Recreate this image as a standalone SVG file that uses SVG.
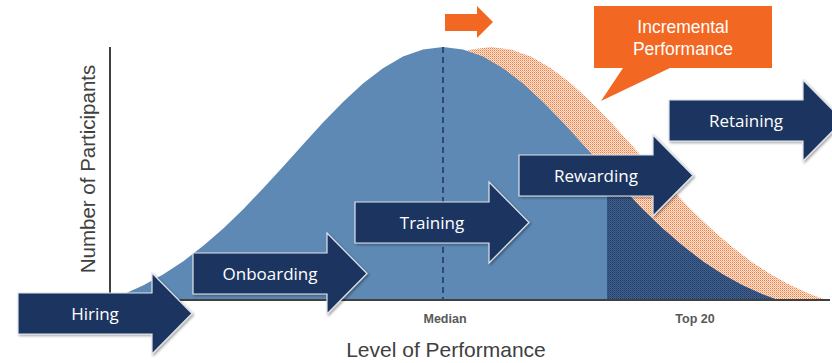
<svg xmlns="http://www.w3.org/2000/svg" width="832" height="363" viewBox="0 0 832 363">
<style>
.stage{fill:#1a3660;stroke:#dfe3ea;stroke-width:1.2;filter:url(#sh)}
.stxt{font-family:"Open Sans","Liberation Sans",sans-serif;font-size:17px;fill:#ffffff;text-anchor:middle}
.tick{font-family:"Liberation Sans",Arial,sans-serif;font-size:12.5px;font-weight:bold;fill:#595959;text-anchor:middle}
.axt{font-family:"Liberation Sans",Arial,sans-serif;font-size:20.5px;fill:#404040;text-anchor:middle}
.callt{font-family:"Liberation Sans",Arial,sans-serif;font-size:17.5px;fill:#ffffff;text-anchor:middle}
.axis{stroke:#404040;stroke-width:2;fill:none}
</style>
<defs>
<filter id="sh" x="-10%" y="-10%" width="125%" height="130%">
<feDropShadow dx="1.5" dy="1.5" stdDeviation="1.2" flood-color="#000" flood-opacity="0.35"/>
</filter>
<pattern id="orangeHatch" width="2" height="2" patternUnits="userSpaceOnUse">
<rect width="2" height="2" fill="#fde6d8"/>
<rect width="1" height="1" fill="#f27a3a"/>
<rect x="1" y="1" width="1" height="1" fill="#f8b08a"/>
</pattern>
<pattern id="darkHatch" width="2" height="2" patternUnits="userSpaceOnUse">
<rect width="2" height="2" fill="#3f5f8d"/>
<rect width="1" height="1" fill="#253f68"/>
<rect x="1" y="1" width="1" height="1" fill="#2e4b77"/>
</pattern>
<path id="bluePath" d="M110,299.5 L123,294.4 L143,285.5 L163,274.5 L183,261.4 L203,246.1 L223,228.7 L243,209.4 L263,188.5 L283,166.7 L303,144.4 L323,122.5 L343,102 L363,83.6 L383,68.2 L403,56.6 L423,49.5 L443,47 L463,49.5 L483,56.6 L503,68.2 L523,83.6 L543,102 L563,122.5 L583,144.4 L603,166.7 L623,188.5 L643,209.4 L663,228.7 L683,246.1 L703,261.4 L723,274.5 L743,285.5 L763,294.4 L778,300 L110,300 Z"/>
<clipPath id="blueClip"><use href="#bluePath"/></clipPath>
</defs>

<g id="curves">
<path id="orange-curve" fill="url(#orangeHatch)" d="M158,300 L171,294.4 L191,285.5 L211,274.5 L231,261.4 L251,246.1 L271,228.7 L291,209.4 L311,188.5 L331,166.7 L351,144.4 L371,122.5 L391,102 L411,83.6 L431,68.2 L451,56.6 L471,49.5 L491,47 L511,49.5 L531,56.6 L551,68.2 L571,83.6 L591,102 L611,122.5 L631,144.4 L651,166.7 L671,188.5 L691,209.4 L711,228.7 L731,246.1 L751,261.4 L771,274.5 L791,285.5 L811,294.4 L826,300 Z"/>
<use id="blue-curve" href="#bluePath" fill="#5d89b4"/>
<rect id="top20-region" x="607" y="40" width="200" height="262" fill="url(#darkHatch)" clip-path="url(#blueClip)"/>
<line id="median-line" x1="443" y1="47" x2="443" y2="300" stroke="#2c4a74" stroke-width="2" stroke-dasharray="6 4"/>
</g>

<g id="axes">
<line class="axis" x1="110" y1="47" x2="110" y2="300"/>
<line class="axis" x1="109" y1="300" x2="830" y2="300"/>
</g>

<g id="connectors"></g>

<g id="hiring">
<path class="stage" d="M18,293 H152 V273 L192,313.5 L152,354 V334 H18 Z"/>
<text class="stxt" x="95" y="320">Hiring</text>
</g>
<g id="onboarding">
<path class="stage" d="M193,253 H327 V233 L367,273.5 L327,314 V294 H193 Z"/>
<text class="stxt" x="270" y="280">Onboarding</text>
</g>
<g id="training">
<path class="stage" d="M355,202 H489 V182 L529,222.5 L489,263 V243 H355 Z"/>
<text class="stxt" x="432" y="229">Training</text>
</g>
<g id="rewarding">
<path class="stage" d="M519,155 H653 V135 L693,175.5 L653,216 V196 H519 Z"/>
<text class="stxt" x="596" y="182">Rewarding</text>
</g>
<g id="retaining">
<path class="stage" d="M669,100 H803 V80 L843,120.5 L803,161 V141 H669 Z"/>
<text class="stxt" x="746" y="127">Retaining</text>
</g>

<g id="shift-arrow">
<path d="M445,14 H477 V6 L493,22 L477,38 V31 H445 Z" fill="#f26822"/>
</g>

<g id="callout">
<path d="M594,6 H772 V68 H670 L601,101 L623,68 H594 Z" fill="#f26822"/>
<text class="callt" x="683" y="33">Incremental</text>
<text class="callt" x="683" y="55">Performance</text>
</g>

<g id="labels">
<text class="tick" x="445" y="323">Median</text>
<text class="tick" x="695" y="323">Top 20</text>
<text class="axt" style="font-size:21px" x="446" y="357">Level of Performance</text>
<text class="axt" transform="translate(95,169) rotate(-90)">Number of Participants</text>
</g>
</svg>
